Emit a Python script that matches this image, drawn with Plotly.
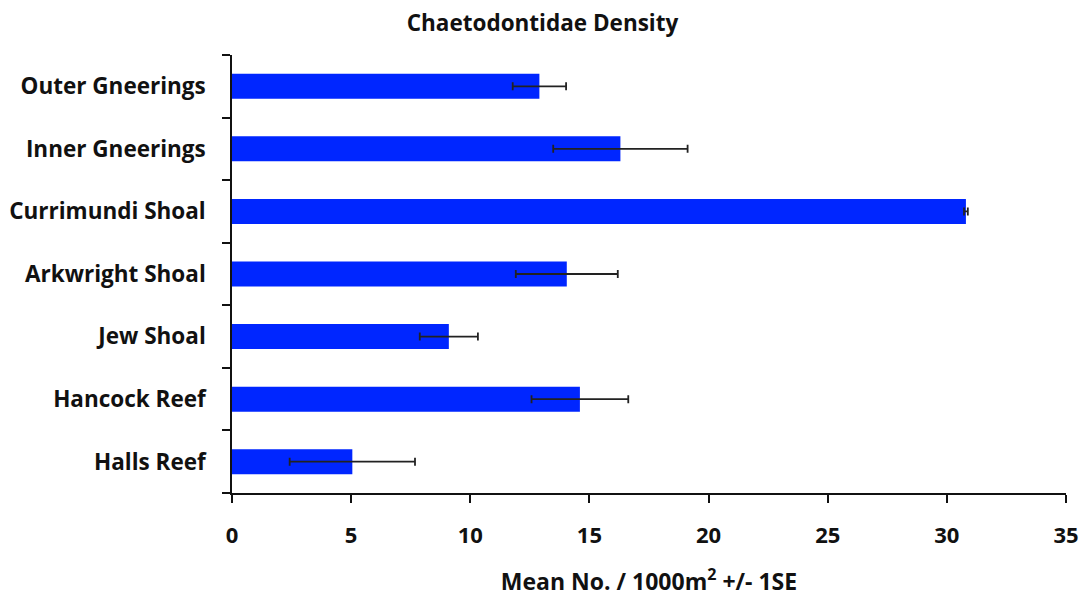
import plotly.graph_objects as go

# Sites listed top to bottom
sites = ["Outer Gneerings", "Inner Gneerings", "Currimundi Shoal", "Arkwright Shoal",
         "Jew Shoal", "Hancock Reef", "Halls Reef"]
# Mean density per 1000 m2 and its standard error
mean_density = [12.9, 16.3, 30.8, 14.05, 9.1, 14.6, 5.05]
std_error = [1.12, 2.82, 0.08, 2.14, 1.22, 2.03, 2.63]

x_ticks = [0, 5, 10, 15, 20, 25, 30, 35]

FONT = "Open Sans"
INK = "#111111"

fig = go.Figure(
    go.Bar(
        x=mean_density,
        y=sites,
        orientation="h",
        width=0.4,
        marker=dict(color="#0026ff", line=dict(width=0)),
        error_x=dict(type="data", array=std_error, visible=True,
                     color="#222222", thickness=1.8, width=4),
    )
)

fig.update_layout(
    width=1085,
    height=597,
    paper_bgcolor="white",
    plot_bgcolor="white",
    margin=dict(l=232, r=19, t=55, b=104, autoexpand=False),
    showlegend=False,
    title=dict(text="<b>Chaetodontidae Density</b>", x=0.5, xanchor="center",
               y=0.962, yanchor="middle",
               font=dict(family=FONT, size=22.5, color=INK)),
    font=dict(family=FONT, color=INK),
)

fig.update_xaxes(
    range=[0, 35],
    tickvals=x_ticks,
    ticktext=[f"<b>{v}</b>" for v in x_ticks],
    tickfont=dict(family=FONT, size=22, color=INK),
    showline=True, linecolor=INK, linewidth=1.5,
    ticks="outside", ticklen=8, tickcolor=INK, tickwidth=1.5,
    showgrid=False, zeroline=False,
    ticklabelstandoff=14,
    automargin=False,
    title=dict(text="<b>Mean No. / 1000m<sup>2</sup> +/- 1SE</b>",
               font=dict(family=FONT, size=23, color=INK), standoff=28),
)

fig.update_yaxes(
    autorange="reversed",
    tickvals=sites,
    ticktext=[f"<b>{s}</b>" for s in sites],
    tickfont=dict(family=FONT, size=22.5, color=INK),
    showline=True, linecolor=INK, linewidth=1.5,
    ticks="outside", ticklen=8, tickcolor=INK, tickwidth=1.5,
    tickson="boundaries",
    ticklabelstandoff=20,
    automargin=False,
    showgrid=False, zeroline=False,
)

fig.write_html("out.html")
